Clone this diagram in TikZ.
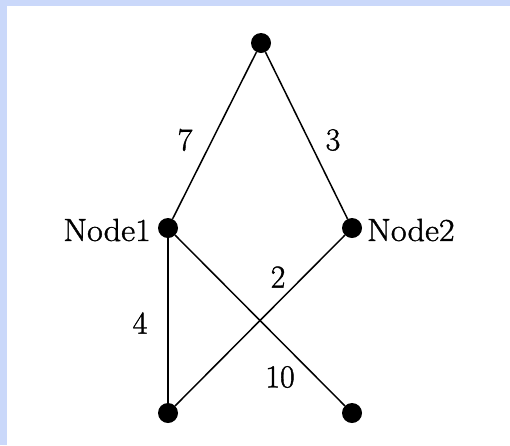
\documentclass[tikz,border=0pt]{standalone}
\usepackage{fontspec}
\newfontfamily\lblfont{Latin Modern Roman}[FakeBold=1.2]
\definecolor{framebg}{RGB}{202,216,250}
\tikzset{
  dot/.style={circle,fill=black,inner sep=0pt,minimum size=20pt},
  edge/.style={line width=1.5pt},
  thickedge/.style={line width=2.3pt},
  lbl/.style={font=\lblfont\fontsize{32}{33}\selectfont,inner sep=0pt}
}
\begin{document}
\begin{tikzpicture}[x=1pt,y=-1pt]
\useasboundingbox (0,0) rectangle (510,445);
\fill[framebg] (0,0) rectangle (510,445);
\fill[white] (7,6) rectangle (510,445);
\node[dot] (top) at (261,43) {};
\node[dot] (n1) at (168,228) {};
\node[dot] (n2) at (352,228) {};
\node[dot] (bl) at (168,413) {};
\node[dot] (br) at (352,413) {};
\draw[edge] (top) -- (n1);
\draw[edge] (top) -- (n2);
\draw[thickedge] (n1) -- (bl);
\draw[edge] (n1) -- (br);
\draw[edge] (n2) -- (bl);
\node[lbl,anchor=east] (l1) at (151,230) {\scalebox{1.07}[1]{Node1}};
\node[lbl,anchor=west] (l2) at (367,230) {\scalebox{1.07}[1]{Node2}};
\node[lbl] (w7) at (185,140) {7};
\node[lbl] (w3) at (333,140) {3};
\node[lbl] (w2) at (278,277) {2};
\node[lbl] (w4) at (140,323) {4};
\node[lbl] (w10) at (280,377) {10};
\end{tikzpicture}
\end{document}
